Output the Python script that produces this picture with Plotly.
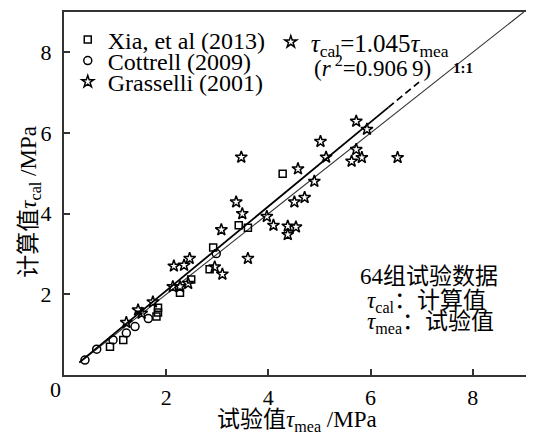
import plotly.graph_objects as go

# ---- data ----
xia_x = [0.90, 1.16, 1.81, 1.84, 1.84, 2.27, 2.49, 2.85, 2.92, 3.42, 3.60, 4.28]
xia_y = [0.70, 0.87, 1.45, 1.55, 1.67, 2.04, 2.37, 2.62, 3.16, 3.71, 3.65, 4.99]

cot_x = [0.41, 0.64, 0.96, 1.22, 1.39, 1.65, 2.98]
cot_y = [0.37, 0.64, 0.87, 1.04, 1.20, 1.40, 3.01]

gra_x = [1.22, 1.45, 1.52, 1.74, 2.13, 2.27, 2.43, 2.15, 2.35, 2.46, 2.95, 3.10,
         3.08, 3.60, 3.37, 3.49, 3.47, 3.97, 4.10, 4.38, 4.38, 4.54, 4.51, 4.71,
         4.58, 4.90, 5.02, 5.13, 5.63, 5.72, 5.83, 5.72, 5.93, 6.53]
gra_y = [1.30, 1.61, 1.53, 1.81, 2.19, 2.19, 2.27, 2.70, 2.72, 2.89, 2.68, 2.50,
         3.60, 2.89, 4.29, 4.00, 5.40, 3.93, 3.71, 3.69, 3.48, 3.67, 4.29, 4.40,
         5.11, 4.80, 5.79, 5.40, 5.30, 5.59, 5.39, 6.29, 6.09, 5.39]

fit_slope = 1.045
fit_solid_x = [0.30, 6.35]
fit_dash_x = [6.35, 6.95]
one_x = [0.30, 9.0]
x_ticks = [0, 2, 4, 6, 8]
y_ticks = [0, 2, 4, 6, 8]

SERIF = "Liberation Serif, Noto Sans CJK SC, serif"
LINE = dict(width=1.5, color="black")

fig = go.Figure()

# 1:1 line
fig.add_trace(go.Scatter(x=one_x, y=one_x, mode="lines",
                         line=dict(color="#333333", width=1.1),
                         showlegend=False, hoverinfo="skip"))
# fitted line
fig.add_trace(go.Scatter(x=fit_solid_x, y=[fit_slope * v for v in fit_solid_x],
                         mode="lines", line=dict(color="black", width=1.8),
                         showlegend=False, hoverinfo="skip"))
fig.add_trace(go.Scatter(x=fit_dash_x, y=[fit_slope * v for v in fit_dash_x],
                         mode="lines", line=dict(color="black", width=1.8, dash="7px,4px"),
                         showlegend=False, hoverinfo="skip"))

fig.add_trace(go.Scatter(x=xia_x, y=xia_y, mode="markers", name="Xia, et al (2013)",
                         marker=dict(symbol="square-open", size=7, color="black", line=LINE),
                         legend="legend"))
fig.add_trace(go.Scatter(x=cot_x, y=cot_y, mode="markers", name="Cottrell (2009)",
                         marker=dict(symbol="circle-open", size=8, color="black", line=LINE),
                         legend="legend2"))
fig.add_trace(go.Scatter(x=gra_x, y=gra_y, mode="markers", name="Grasselli (2001)",
                         marker=dict(symbol="star-open", size=9, color="black", line=LINE),
                         legend="legend3"))
fig.add_trace(go.Scatter(x=[None], y=[None], mode="markers",
                         name="<i>τ</i><sub>cal</sub>=1.045<i>τ</i><sub>mea</sub>",
                         marker=dict(symbol="star-open", size=9, color="black", line=LINE),
                         legend="legend4"))

def leg(x, y, size=24):
    return dict(x=x, y=y, xanchor="left", yanchor="middle", bgcolor="rgba(0,0,0,0)",
                font=dict(family=SERIF, size=size, color="black"), borderwidth=0,
                valign="middle")

ann = []
def add_text(text, x, y, size=23, xanchor="left", bold=False, angle=0):
    if bold:
        text = "<b>" + text + "</b>"
    ann.append(dict(text=text, x=x, y=y, xref="paper", yref="paper",
                    xanchor=xanchor, yanchor="middle", showarrow=False, textangle=angle,
                    font=dict(family=SERIF, size=size, color="black")))

add_text("(<i>r</i><sup> 2</sup>=0.906\u20099)", 0.528, 0.849, size=23)
add_text("1:1", 0.849, 0.846, size=15, xanchor="center", bold=True)
add_text("64组试验数据", 0.626, 0.270)
add_text("<i>τ</i><sub>cal</sub>：计算值", 0.640, 0.201)
add_text("<i>τ</i><sub>mea</sub>：试验值", 0.640, 0.143)
add_text("0", -0.019, -0.039, size=22, xanchor="center")
# axis titles
add_text("试验值<i>τ</i><sub>mea</sub> /MPa", 0.496, -0.128, size=23, xanchor="center")
add_text("计算值<i>τ</i><sub>cal</sub> /MPa", -0.072, 0.478, size=23, xanchor="center",
         angle=-90)

axis_common = dict(showline=True, linecolor="#333333", linewidth=2,
                   ticks="inside", ticklen=6, tickwidth=1.5, tickcolor="#333333",
                   showgrid=False, zeroline=False, automargin=False,
                   tickfont=dict(family=SERIF, size=22, color="black"))

# page body adds an 8px offset, so the figure is sized/margined to compensate
fig.update_layout(
    width=526, height=428,
    margin=dict(l=56, r=0, t=4, b=61),
    plot_bgcolor="white", paper_bgcolor="white",
    xaxis=dict(range=[0, 9.2], tickvals=x_ticks, ticktext=["", "2", "4", "6", "8"],
               mirror=True, ticklabelstandoff=2, **axis_common),
    yaxis=dict(range=[0, 9], tickvals=y_ticks, ticktext=["", "2", "4", "6", "8"],
               ticklabelstandoff=6, **axis_common),
    legend=leg(0.008, 0.923),
    legend2=leg(0.008, 0.865),
    legend3=leg(0.008, 0.807),
    legend4=leg(0.440, 0.917, size=25),
    annotations=ann,
)

fig.write_html("out.html")
